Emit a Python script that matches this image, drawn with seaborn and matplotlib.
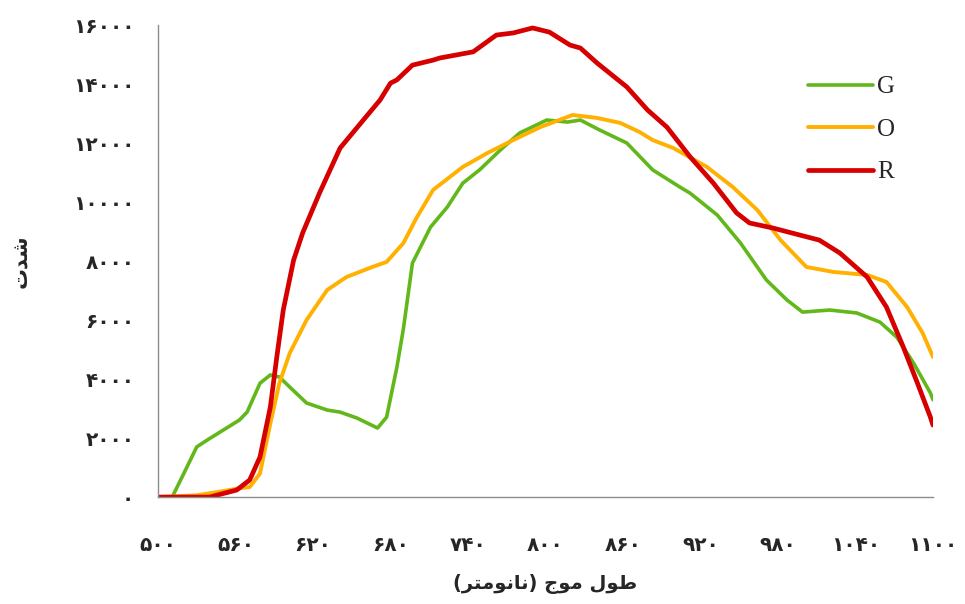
import pandas as pd
import seaborn as sns
import matplotlib.pyplot as plt
from matplotlib.ticker import FixedLocator, FixedFormatter

# Spectra (wavelength nm, intensity)
g_x = [500, 511, 520, 530, 538, 563, 569, 579, 587, 594, 602, 615, 631, 641, 654, 670, 677, 685, 690,
       697, 711, 724, 736, 749, 765, 780, 801, 817, 827, 842, 863, 883, 904, 912, 933, 951, 971, 987,
       999, 1020, 1041, 1059, 1072, 1085, 1098, 1100]
g_y = [0, 0, 800, 1700, 1930, 2610, 2880, 3860, 4140, 4070, 3730, 3190, 2950, 2880, 2680, 2340, 2710,
       4410, 5700, 7930, 9150, 9830, 10640, 11090, 11760, 12340, 12780, 12710, 12780, 12440, 12000,
       11090, 10510, 10300, 9560, 8610, 7360, 6680, 6270, 6340, 6240, 5930, 5420, 4540, 3530, 3300]

o_x = [500, 530, 546, 563, 571, 579, 587, 594, 602, 615, 631, 646, 666, 677, 690, 700, 713, 736, 755,
       775, 796, 821, 840, 858, 873, 883, 899, 925, 945, 964, 982, 1002, 1023, 1049, 1064, 1080, 1092, 1100]
o_y = [0, 60, 170, 300, 340, 800, 2500, 3860, 4880, 6000, 7020, 7460, 7800, 7970, 8610, 9450, 10410,
       11190, 11660, 12100, 12540, 12950, 12850, 12680, 12370, 12100, 11830, 11190, 10510, 9730, 8710,
       7800, 7630, 7530, 7290, 6440, 5560, 4750]

r_x = [500, 540, 546, 561, 571, 579, 587, 592, 597, 605, 612, 625, 641, 659, 672, 680, 685, 697, 713,
       718, 744, 762, 775, 790, 803, 819, 827, 840, 863, 879, 894, 912, 930, 948, 958, 976, 997, 1012,
       1028, 1049, 1064, 1077, 1088, 1098, 1100]
r_y = [0, 0, 70, 240, 580, 1360, 3050, 4750, 6340, 8030, 8950, 10300, 11830, 12780, 13460, 14030, 14140,
       14640, 14810, 14880, 15090, 15660, 15730, 15900, 15760, 15320, 15220, 14710, 13900, 13120, 12540,
       11530, 10640, 9630, 9290, 9120, 8880, 8710, 8270, 7460, 6440, 5090, 3860, 2710, 2440]

series_names = ['G', 'O', 'R']
x_ticks = [500, 560, 620, 680, 740, 800, 860, 920, 980, 1040, 1100]
y_ticks = [0, 2000, 4000, 6000, 8000, 10000, 12000, 14000, 16000]

# Persian digits for tick labels
fa = str.maketrans('0123456789', '۰۱۲۳۴۵۶۷۸۹')
x_tick_labels = [str(v).translate(fa) for v in x_ticks]
y_tick_labels = [str(v).translate(fa) for v in y_ticks]

# labels written in shaped (presentation) forms, visual order, since matplotlib does no shaping
x_label = '(ﺮﺘﻣﻮﻧﺎﻧ) ﺝﻮﻣ ﻝﻮﻃ'   # طول موج (نانومتر)
y_label = 'ﺕﺪﺷ'                  # شدت

df = pd.concat([
    pd.DataFrame({'wl': g_x, 'val': g_y, 's': 'G'}),
    pd.DataFrame({'wl': o_x, 'val': o_y, 's': 'O'}),
    pd.DataFrame({'wl': r_x, 'val': r_y, 's': 'R'}),
])

colors = {'G': '#62B81A', 'O': '#FFB000', 'R': '#D60000'}
widths = {'G': 2.6, 'O': 2.8, 'R': 3.4}

sns.set_style('white')
plt.rcParams['font.family'] = ['DejaVu Sans']

fig = plt.figure(figsize=(9.65, 6.04), dpi=100)
ax = fig.add_axes([0.1637, 0.177, 0.8031, 0.7816])

for s in series_names:
    sns.lineplot(data=df[df['s'] == s], x='wl', y='val', color=colors[s], linewidth=widths[s],
                 label=s, estimator=None, sort=False, ax=ax)

ax.set_xlim(500, 1100)
ax.set_ylim(0, 16000)
ax.xaxis.set_major_locator(FixedLocator(x_ticks))
ax.xaxis.set_major_formatter(FixedFormatter(x_tick_labels))
ax.yaxis.set_major_locator(FixedLocator(y_ticks))
ax.yaxis.set_major_formatter(FixedFormatter(y_tick_labels))

for side in ['top', 'right']:
    ax.spines[side].set_visible(False)
for side in ['left', 'bottom']:
    ax.spines[side].set_color('#8c8c8c')
    ax.spines[side].set_linewidth(1.0)

ax.tick_params(axis='both', direction='out', length=6, width=1, color='#8c8c8c',
               labelsize=14.5)
ax.tick_params(axis='x', pad=22)
ax.tick_params(axis='y', pad=11)
for lab in ax.get_xticklabels() + ax.get_yticklabels():
    lab.set_fontweight('bold')

ax.set_xlabel(x_label, fontsize=14, fontweight='bold', labelpad=14)
ax.set_ylabel(y_label, fontsize=15, fontweight='bold', labelpad=30)

leg = ax.legend(loc='upper left', bbox_to_anchor=(0.81, 0.94), frameon=False,
                prop={'family': 'Liberation Serif', 'size': 18}, handlelength=2.6,
                handletextpad=0.15, labelspacing=0.8)

fig.savefig('out.png', dpi=100, facecolor='white')
